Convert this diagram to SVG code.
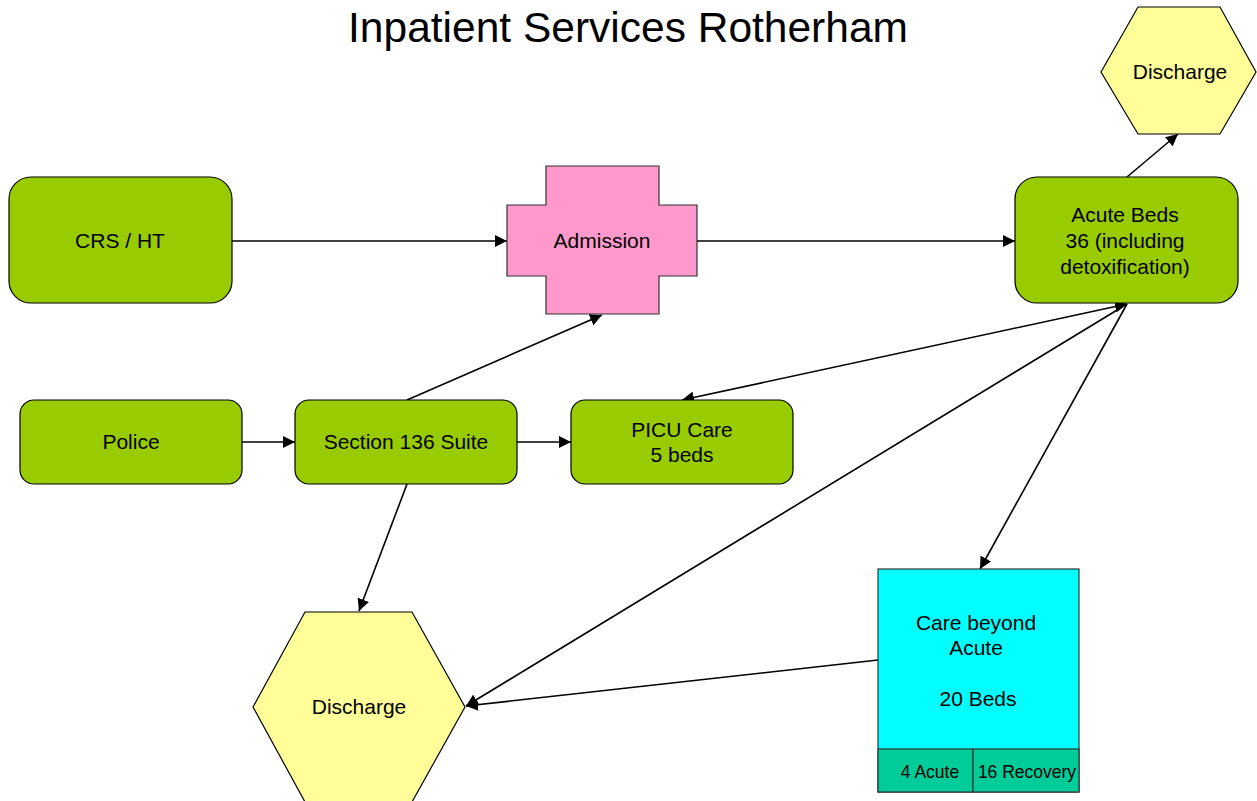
<svg xmlns="http://www.w3.org/2000/svg" width="1257" height="801" viewBox="0 0 1257 801">
<style>
text{font-family:"Liberation Sans",Arial,sans-serif;fill:#000;text-anchor:middle}
.n{font-size:21px}
.s{font-size:17.5px}
.g{fill:#99CC00;stroke:#000;stroke-width:1.2}
.y{fill:#FFFF99;stroke:#000;stroke-width:1.2}
.p{fill:#FF99CC;stroke:#333;stroke-width:1.2}
.c{fill:#00FFFF;stroke:#333;stroke-width:1.2}
.t{fill:#00CC99;stroke:#333;stroke-width:1.2}
.l{stroke:#000;stroke-width:1.6;fill:none;marker-end:url(#a)}
</style>
<defs>
<marker id="a" viewBox="0 0 10 10" refX="10" refY="5" markerWidth="12" markerHeight="12" markerUnits="userSpaceOnUse" orient="auto-start-reverse">
<path d="M0,0 L10,5 L0,10 z" fill="#000"/>
</marker>
</defs>
<rect width="1257" height="801" fill="#fff"/>
<text x="628" y="42" style="font-size:42.5px">Inpatient Services Rotherham</text>

<g id="connectors">
<line class="l" x1="232" y1="241" x2="507" y2="241"/>
<line class="l" x1="697" y1="241" x2="1015" y2="241"/>
<line class="l" x1="407" y1="400" x2="602" y2="315"/>
<line class="l" x1="242" y1="442" x2="295" y2="442"/>
<line class="l" x1="517" y1="442" x2="571" y2="442"/>
<line class="l" x1="407" y1="484" x2="359" y2="611"/>
<line class="l" x1="682" y1="400" x2="1127" y2="304" style="marker-start:url(#a)"/>
<line class="l" x1="1127" y1="304" x2="466" y2="706"/>
<line class="l" x1="1127" y1="304" x2="980" y2="569"/>
<line class="l" x1="878" y1="660" x2="466" y2="706"/>
<line class="l" x1="1127" y1="177" x2="1178" y2="134"/>
</g>

<g id="discharge-top">
<polygon class="y" points="1101,72 1138,7 1220,7 1256,72 1220,134 1138,134"/>
<text class="n" x="1180" y="79">Discharge</text>
</g>

<g id="crs-ht">
<rect class="g" x="9" y="177" width="223" height="126" rx="22"/>
<text class="n" x="120" y="248">CRS / HT</text>
</g>

<g id="admission">
<polygon class="p" points="546,166 659,166 659,205 697,205 697,276 659,276 659,314 546,314 546,276 507,276 507,205 546,205"/>
<text class="n" x="602" y="248">Admission</text>
</g>

<g id="acute-beds">
<rect class="g" x="1015" y="177" width="223" height="126" rx="22"/>
<text class="n" x="1125" y="222">Acute Beds</text>
<text class="n" x="1125" y="248">36 (including</text>
<text class="n" x="1125" y="274">detoxification)</text>
</g>

<g id="police">
<rect class="g" x="20" y="400" width="222" height="84" rx="14"/>
<text class="n" x="131" y="449">Police</text>
</g>

<g id="section-136">
<rect class="g" x="295" y="400" width="222" height="84" rx="14"/>
<text class="n" x="406" y="449">Section 136 Suite</text>
</g>

<g id="picu">
<rect class="g" x="571" y="400" width="222" height="84" rx="14"/>
<text class="n" x="682" y="437">PICU Care</text>
<text class="n" x="682" y="462">5 beds</text>
</g>

<g id="discharge-bottom">
<polygon class="y" points="253,707 305,612 412,612 465,707 412,802 305,802"/>
<text class="n" x="359" y="714">Discharge</text>
</g>

<g id="care-beyond-acute">
<rect class="c" x="878" y="569" width="201" height="223"/>
<rect class="t" x="878" y="749" width="95" height="43"/>
<rect class="t" x="973" y="749" width="106" height="43"/>
<text class="n" x="976" y="630">Care beyond</text>
<text class="n" x="976" y="655">Acute</text>
<text class="n" x="978" y="706">20 Beds</text>
<text class="s" x="930" y="778">4 Acute</text>
<text class="s" x="1027" y="778">16 Recovery</text>
</g>
</svg>
